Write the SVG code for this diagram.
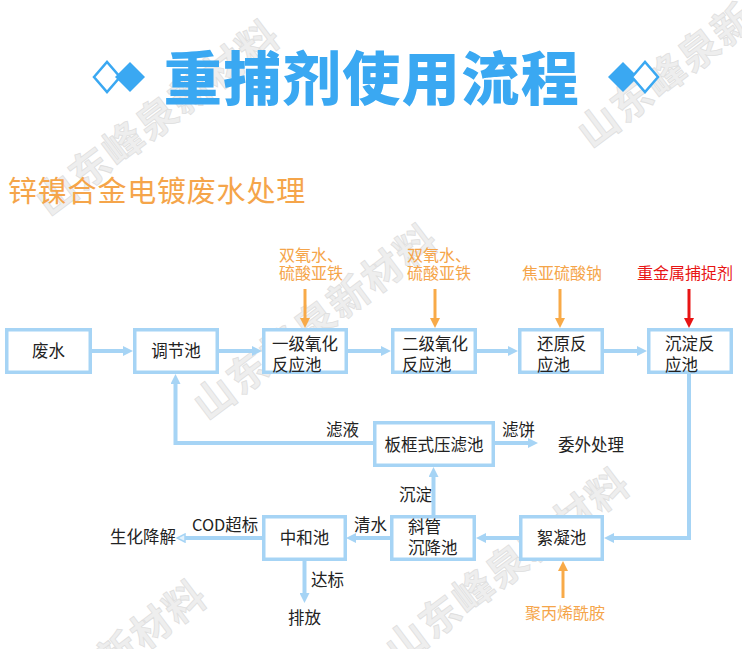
<svg xmlns="http://www.w3.org/2000/svg" width="742" height="649" viewBox="0 0 742 649">
<defs>
<style>
.wm{font-family:"Noto Sans CJK SC",sans-serif;font-size:40px;font-weight:bold;fill:#e8e8e8;stroke:#d2d2d2;stroke-width:0.8;letter-spacing:2px;opacity:0.7}
.box{fill:#ffffff;stroke:#a6d4f5;stroke-width:3.5}
.t{font-family:"Noto Sans CJK SC","Liberation Sans",sans-serif;font-size:16.5px;fill:#222222}
.tc{text-anchor:middle}
.or{font-family:"Noto Sans CJK SC","Liberation Sans",sans-serif;font-size:16px;fill:#f5a54a}
.red{font-family:"Noto Sans CJK SC","Liberation Sans",sans-serif;font-size:16px;fill:#e81414}
.ln{fill:none;stroke:#a6d4f5;stroke-width:4;marker-end:url(#ab)}
.lo{fill:none;stroke:#f8aa48;stroke-width:3;marker-end:url(#ao)}
.lr{fill:none;stroke:#e81414;stroke-width:3;marker-end:url(#ar)}
</style>
<marker id="ab" viewBox="0 0 10 10" refX="4" refY="5" markerWidth="10" markerHeight="10" markerUnits="userSpaceOnUse" orient="auto"><path d="M0,0 L10,5 L0,10 z" fill="#a6d4f5"/></marker>
<marker id="aopen" viewBox="0 0 10 10" refX="4" refY="5" markerWidth="10" markerHeight="10" markerUnits="userSpaceOnUse" orient="auto"><path d="M1,1 L9,5 L1,9 z" fill="#e4f2fc" stroke="#a6d4f5" stroke-width="1.5"/></marker>
<marker id="ao" viewBox="0 0 10 10" refX="4" refY="5" markerWidth="10" markerHeight="10" markerUnits="userSpaceOnUse" orient="auto"><path d="M0,0 L10,5 L0,10 z" fill="#f8aa48"/></marker>
<marker id="ar" viewBox="0 0 10 10" refX="4" refY="5" markerWidth="10" markerHeight="10" markerUnits="userSpaceOnUse" orient="auto"><path d="M0,0 L10,5 L0,10 z" fill="#e81414"/></marker>
</defs>
<rect width="742" height="649" fill="#ffffff"/>
<g id="watermarks">
<text class="wm" x="158" y="132" text-anchor="middle" transform="rotate(-37 158 118)">山东峰泉新材料</text>
<text class="wm" x="700" y="64" text-anchor="middle" transform="rotate(-37 700 50)">山东峰泉新材料</text>
<text class="wm" x="316" y="336" text-anchor="middle" transform="rotate(-37 316 322)">山东峰泉新材料</text>
<text class="wm" x="508" y="580" text-anchor="middle" transform="rotate(-37 508 566)">山东峰泉新材料</text>
<text class="wm" x="85" y="692" text-anchor="middle" transform="rotate(-37 85 678)">山东峰泉新材料</text>
</g>
<g id="title">
<polygon points="94,77 107,62 120,77 107,92" fill="#ffffff" stroke="#3aa8f2" stroke-width="2.5"/>
<polygon points="115,77 130,62 145,77 130,92" fill="#3aa8f2"/>
<polygon points="608,77 623,62 638,77 623,92" fill="#3aa8f2"/>
<polygon points="632,77 645,62 658,77 645,92" fill="#ffffff" stroke="#3aa8f2" stroke-width="2.5"/>
<text x="372" y="100" text-anchor="middle" font-family="'Noto Sans CJK SC',sans-serif" font-size="58" font-weight="900" letter-spacing="1.5" fill="#3aa8f2">重捕剂使用流程</text>
<text x="8" y="202" font-family="'Noto Sans CJK SC',sans-serif" font-size="29" letter-spacing="0.8" fill="#f5a54a">锌镍合金电镀废水处理</text>
</g>
<g id="connectors">
<path class="ln" d="M92,351 H127"/>
<path class="ln" d="M217,351 H256"/>
<path class="ln" d="M348,351 H385"/>
<path class="ln" d="M476,351 H512"/>
<path class="ln" d="M603,351 H641"/>
<path class="lo" d="M305,289 V322"/>
<path class="lo" d="M435,289 V322"/>
<path class="lo" d="M560,289 V322"/>
<path class="lr" d="M689,289 V322"/>
<path class="ln" d="M689,374 V538 H610"/>
<path class="ln" d="M519,538 H482"/>
<path class="ln" d="M390,538 H352"/>
<path fill="none" stroke="#a6d4f5" stroke-width="4" marker-end="url(#aopen)" d="M262,538 H182"/>
<path class="ln" d="M304.5,561 V597"/>
<path class="ln" d="M433.5,515 V473"/>
<path class="ln" d="M373,443 H175.5 V380"/>
<path class="ln" d="M495,443 H532"/>
<path class="lo" d="M563,598 V567"/>
</g>
<g id="labels">
<text class="or" x="279" y="261">双氧水、</text>
<text class="or" x="279" y="279">硫酸亚铁</text>
<text class="or" x="407" y="261">双氧水、</text>
<text class="or" x="407" y="279">硫酸亚铁</text>
<text class="or" x="522" y="279">焦亚硫酸钠</text>
<text class="red" x="637" y="279">重金属捕捉剂</text>
<text class="t" x="326" y="436">滤液</text>
<text class="t" x="502" y="436">滤饼</text>
<text class="t" x="558" y="451">委外处理</text>
<text class="t" x="399" y="501">沉淀</text>
<text class="t" x="354" y="531">清水</text>
<text class="t" x="192" y="531" textLength="66" lengthAdjust="spacingAndGlyphs">COD超标</text>
<text class="t" x="110" y="543">生化降解</text>
<text class="t" x="311" y="586">达标</text>
<text class="t" x="288" y="624">排放</text>
<text class="or" x="525" y="619" font-size="16.5">聚丙烯酰胺</text>
</g>
<g id="n-feishui"><rect class="box" x="6.75" y="329.75" width="83.5" height="42.5"/><text class="t tc" x="48.5" y="357">废水</text></g>
<g id="n-tiaojie"><rect class="box" x="134.75" y="329.75" width="82.5" height="42.5"/><text class="t tc" x="176" y="357">调节池</text></g>
<g id="n-yiji"><rect class="box" x="263.75" y="329.75" width="82.5" height="42.5"/><text class="t" x="272" y="350">一级氧化</text><text class="t" x="272" y="371">反应池</text></g>
<g id="n-erji"><rect class="box" x="392.75" y="329.75" width="82.5" height="42.5"/><text class="t" x="402" y="350">二级氧化</text><text class="t" x="402" y="371">反应池</text></g>
<g id="n-huanyuan"><rect class="box" x="519.75" y="329.75" width="82.5" height="42.5"/><text class="t" x="537" y="350">还原反</text><text class="t" x="537" y="371">应池</text></g>
<g id="n-chendian"><rect class="box" x="648.75" y="329.75" width="82.5" height="42.5"/><text class="t" x="665" y="350">沉淀反</text><text class="t" x="665" y="371">应池</text></g>
<g id="n-bankuang"><rect class="box" x="374.75" y="422.75" width="118.5" height="42.5"/><text class="t tc" x="434" y="451">板框式压滤池</text></g>
<g id="n-zhonghe"><rect class="box" x="263.75" y="516.75" width="81.5" height="42.5"/><text class="t tc" x="304.5" y="544">中和池</text></g>
<g id="n-xieguan"><rect class="box" x="391.75" y="516.75" width="82.5" height="42.5"/><text class="t" x="408" y="533">斜管</text><text class="t" x="408" y="554">沉降池</text></g>
<g id="n-xuning"><rect class="box" x="520.75" y="516.75" width="81.5" height="42.5"/><text class="t tc" x="561.5" y="544">絮凝池</text></g>
</svg>
